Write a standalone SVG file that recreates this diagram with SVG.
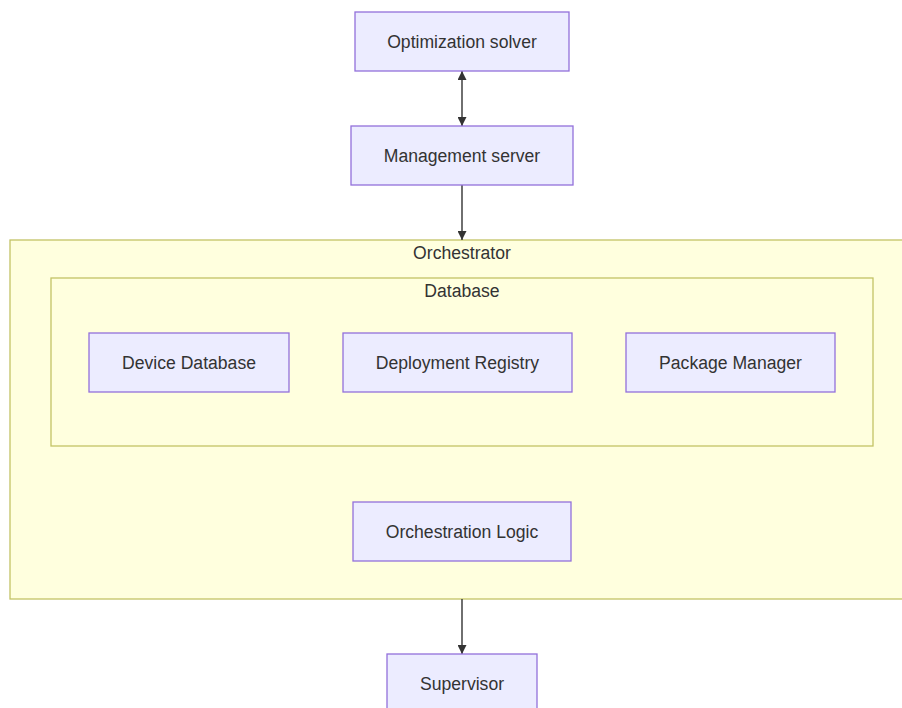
<svg xmlns="http://www.w3.org/2000/svg" width="902" height="708" viewBox="0 0 902 708">
  <style>
    .cluster { fill: #ffffde; stroke: #c3c365; stroke-width: 1.3; }
    .node rect { fill: #ececff; stroke: #9370db; stroke-width: 1.3; }
    text { font-family: "Liberation Sans", Arial, sans-serif; font-size: 17.6px; fill: #333; text-anchor: middle; dominant-baseline: central; }
    .edge { stroke: #333; stroke-width: 1.4; fill: none; }
  </style>
  <defs>
    <marker id="arrowEnd" viewBox="0 0 10 10" refX="10" refY="5" markerWidth="9" markerHeight="9" markerUnits="userSpaceOnUse" orient="auto">
      <path d="M0,0 L10,5 L0,10 z" fill="#333"/>
    </marker>
    <marker id="arrowStart" viewBox="0 0 10 10" refX="0" refY="5" markerWidth="9" markerHeight="9" markerUnits="userSpaceOnUse" orient="auto">
      <path d="M10,0 L0,5 L10,10 z" fill="#333"/>
    </marker>
  </defs>

  <!-- subgraphs -->
  <g id="Orchestrator">
    <rect class="cluster" x="10" y="240" width="910" height="359"/>
    <text x="462" y="253">Orchestrator</text>
  </g>
  <g id="Database">
    <rect class="cluster" x="51" y="278" width="822" height="168"/>
    <text x="462" y="291">Database</text>
  </g>

  <!-- connectors -->
  <g id="edges">
    <path class="edge" d="M462,71 L462,126" marker-start="url(#arrowStart)" marker-end="url(#arrowEnd)"/>
    <path class="edge" d="M462,185 L462,240" marker-end="url(#arrowEnd)"/>
    <path class="edge" d="M462,599 L462,654" marker-end="url(#arrowEnd)"/>
  </g>

  <!-- nodes -->
  <g id="OptimizationSolver" class="node">
    <rect x="355" y="12" width="214" height="59"/>
    <text x="462" y="41.5">Optimization solver</text>
  </g>
  <g id="ManagementServer" class="node">
    <rect x="351" y="126" width="222" height="59"/>
    <text x="462" y="155.5">Management server</text>
  </g>
  <g id="DeviceDatabase" class="node">
    <rect x="89" y="333" width="200" height="59"/>
    <text x="189" y="362.5">Device Database</text>
  </g>
  <g id="DeploymentRegistry" class="node">
    <rect x="343" y="333" width="229" height="59"/>
    <text x="457.5" y="362.5">Deployment Registry</text>
  </g>
  <g id="PackageManager" class="node">
    <rect x="626" y="333" width="209" height="59"/>
    <text x="730.5" y="362.5">Package Manager</text>
  </g>
  <g id="OrchestrationLogic" class="node">
    <rect x="353" y="502" width="218" height="59"/>
    <text x="462" y="531.5">Orchestration Logic</text>
  </g>
  <g id="Supervisor" class="node">
    <rect x="387" y="654" width="150" height="59"/>
    <text x="462" y="683.5">Supervisor</text>
  </g>
</svg>
